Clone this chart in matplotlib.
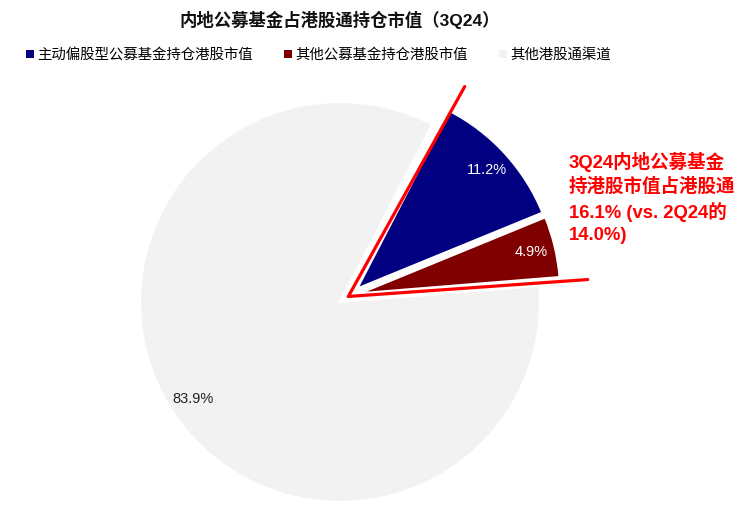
import numpy as np
import matplotlib
matplotlib.use('Agg')
import matplotlib.pyplot as plt
from matplotlib.patches import Patch

plt.rcParams['font.family'] = ['Liberation Sans', 'Noto Sans CJK SC', 'DejaVu Sans']

# data
labels = ['主动偏股型公募基金持仓港股市值', '其他公募基金持仓港股市值', '其他港股通渠道']
shares = [11.2, 4.9, 83.9]
colors = ['#000080', '#800000', '#F2F2F2']
title = '内地公募基金占港股通持仓市值（3Q24）'
note = '3Q24内地公募基金\n持港股市值占港股通\n16.1% (vs. 2Q24的\n14.0%)'

W, H = 754, 512
fig = plt.figure(figsize=(W / 100, H / 100), dpi=100)
ax = fig.add_axes([0, 0, 1, 1])

center = (340, H - 302)
radius = 200
explode_px = 22

wedges, texts, autotexts = ax.pie(
    shares, colors=colors, startangle=62.6, counterclock=False,
    center=center, radius=radius, autopct='%.1f%%', pctdistance=0.88,
    wedgeprops=dict(edgecolor='white', linewidth=1.5),
    textprops=dict(fontsize=10.5), frame=True)

# pull out the two fund slices, roughly together
top = wedges[0].theta2
bot = wedges[1].theta1
group_mid = (top + bot) / 2
for w, t in zip(wedges[:2], autotexts[:2]):
    mid = np.deg2rad(0.5 * (w.theta1 + w.theta2) / 2 + 0.5 * group_mid)
    dx, dy = explode_px * np.cos(mid), explode_px * np.sin(mid)
    w.set_center((center[0] + dx, center[1] + dy))
    x, y = t.get_position()
    t.set_position((x + dx, y + dy))
    t.set_color('white')
autotexts[2].set_color('#222222')
ax.set_xlim(0, W)
ax.set_ylim(0, H)
ax.axis('off')

# red highlight lines around the fund slices
m = np.deg2rad(group_mid)
vx = center[0] + 10 * np.cos(m)
vy = center[1] + 10 * np.sin(m)
for ang in (top - 1.6, bot - 0.6):
    a = np.deg2rad(ang)
    ax.plot([vx, vx + 240 * np.cos(a)], [vy, vy + 240 * np.sin(a)],
            color='#FF0000', linewidth=2.3, solid_capstyle='round', zorder=5)

fig.text(340 / W, 1 - 20 / H, title, ha='center', va='center',
         fontsize=12.5, fontweight='bold', color='#111111')

handles = [Patch(facecolor=c, edgecolor='none') for c in colors]
fig.legend(handles, labels, loc='center left', bbox_to_anchor=(26 / W, 1 - 55 / H),
           ncol=3, frameon=False, fontsize=10.4, handlelength=0.55, handleheight=0.55,
           handletextpad=0.2, columnspacing=2.2, borderpad=0, borderaxespad=0)

fig.text(569 / W, 1 - 152 / H, note, ha='left', va='top', fontsize=13.3,
         fontweight='bold', color='#FF0000', linespacing=1.38)

fig.savefig('out.png', dpi=100)
